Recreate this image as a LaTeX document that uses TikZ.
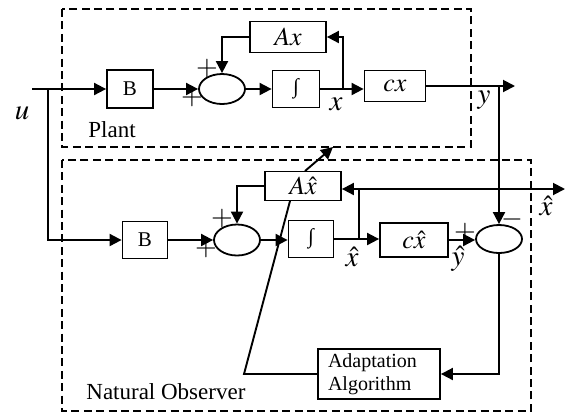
\documentclass[tikz,border=0pt]{standalone}
\usepackage{mathptmx}
\usepackage{fontspec}
\setmainfont{Liberation Serif}
\usetikzlibrary{arrows.meta, shapes.geometric}

\begin{document}
\begin{tikzpicture}[
    x=0.5pt, y=-0.5pt,
    every node/.style={inner sep=0pt},
    blokk/.style={rectangle, draw, line width=0.9pt, fill=white,
        font=\fontsize{10.5}{12}\selectfont},
    summe/.style={ellipse, draw, line width=0.9pt, minimum width=23pt,
        minimum height=15pt},
    ramme/.style={draw, line width=0.6pt, dash pattern=on 4pt off 2.2pt},
    pil/.style={line width=0.95pt, -{Triangle[length=6pt, width=6pt]}},
    linje/.style={line width=0.95pt},
    tegn/.style={font=\fontsize{14}{14}\selectfont},
    merke/.style={font=\fontsize{14.5}{14.5}\selectfont},
    mat/.style={font=\fontsize{13}{13}\selectfont},
    tekst/.style={font=\fontsize{11.5}{13}\selectfont, anchor=west}
    ]
\useasboundingbox (0,0) rectangle (566,414);

%frames
\draw[ramme] (62,9) rectangle (471,147);
\draw[ramme] (62,160) rectangle (531,411);
\node[tekst] (plantlbl) at (88,130) {Plant};
\node[tekst] (obslbl) at (86,392) {Natural Observer};

%plant
\node[blokk, minimum width=23pt, minimum height=19pt] (B1) at (130,89) {B};
\node[summe] (S1) at (222,89) {};
\node[blokk, minimum width=23.5pt, minimum height=18.5pt] (I1) at (296,89) {∫};
\node[blokk, mat, minimum width=38pt, minimum height=15.5pt] (Ax) at (288,37) {$Ax$};
\node[blokk, mat, minimum width=30.5pt, minimum height=15.5pt] (Cx) at (395,86) {$cx$};

%observer
\node[blokk, minimum width=22.5pt, minimum height=18.5pt] (B2) at (145,240) {B};
\node[summe, minimum height=15.5pt] (S3) at (237,240) {};
\node[blokk, minimum width=22.5pt, minimum height=18.5pt] (I2) at (311,239) {∫};
\node[blokk, mat, minimum width=38pt, minimum height=14.5pt] (Axh) at (303,186) {$A\hat{x}$};
\node[blokk, mat, minimum width=34pt, minimum height=17pt] (Cxh) at (414,240) {$c\hat{x}$};
\node[summe, minimum height=14pt] (S2) at (499,239) {};
\node[blokk, minimum height=25pt, text width=51pt, inner xsep=5pt, align=left,
    font=\fontsize{10}{11.5}\selectfont] (Adapt) at (379,374) {Adaptation\\Algorithm};

%input
\coordinate (uin) at (32,89);
\coordinate (ubr) at (48,89);
\node[merke] (ulbl) at (22,113) {$u$};
\draw[pil] (uin) -- (B1.west);
\draw[pil] (ubr) |- (B2.west);

%plant connections
\draw[pil] (B1.east) -- (S1.west);
\draw[pil] (Ax.west) -| (S1.north);
\draw[pil] (S1.east) -- (I1.west);
\coordinate (xbr) at (343,89);
\draw[pil] (I1.east) -- (I1.east -| Cx.west);
\draw[pil] (xbr) |- (Ax.east);
\coordinate (ybr) at (499,86);
\coordinate (yout) at (515,86);
\draw[pil] (Cx.east) -- (yout);
\draw[pil] (ybr) -- (S2.north);
\node[merke] (xlbl) at (336,104) {$x$};
\node[merke] (ylbl) at (484,100) {$y$};
\node[tegn] (p1) at (192,97) {$+$};
\node[tegn] (p2) at (207,68) {$+$};

%observer connections
\draw[pil] (B2.east) -- (S3.west);
\draw[pil] (Axh.west) -| (S3.north);
\draw[pil] (S3.east) -- (S3.east -| I2.west);
\draw[pil] (I2.east) -- (I2.east -| Cxh.west);
\coordinate (xhbr) at (359,239);
\coordinate (xhtop) at (359,189);
\coordinate (xhout) at (565,189);
\draw[linje] (xhbr) -- (xhtop);
\draw[pil] (xhtop) -- (xhtop -| Axh.east);
\draw[pil] (xhtop) -- (xhout);
\draw[pil] (Cxh.east) -- (Cxh.east -| S2.west);
\draw[pil] (S2.south) |- (Adapt.east);
\node[merke] (xhlbl) at (352,257) {$\hat{x}$};
\node[merke] (yhlbl) at (458,259) {$\hat{y}$};
\node[merke] (xhout lbl) at (546,206) {$\hat{x}$};
\node[tegn] (p3) at (206,248) {$+$};
\node[tegn] (p4) at (222,218) {$+$};
\node[tegn] (p5) at (465,232) {$+$};
\node[tegn] (m1) at (512,219) {$-$};

%adaptation
\coordinate (adk) at (244,374);
\coordinate (adtop) at (290,201);
\coordinate (adut) at (305,171);
\coordinate (adtip) at (333,147);
\draw[linje] (Adapt.west) -- (adk) -- (adtop);
\draw[pil] (adut) -- (adtip);
\end{tikzpicture}
\end{document}
